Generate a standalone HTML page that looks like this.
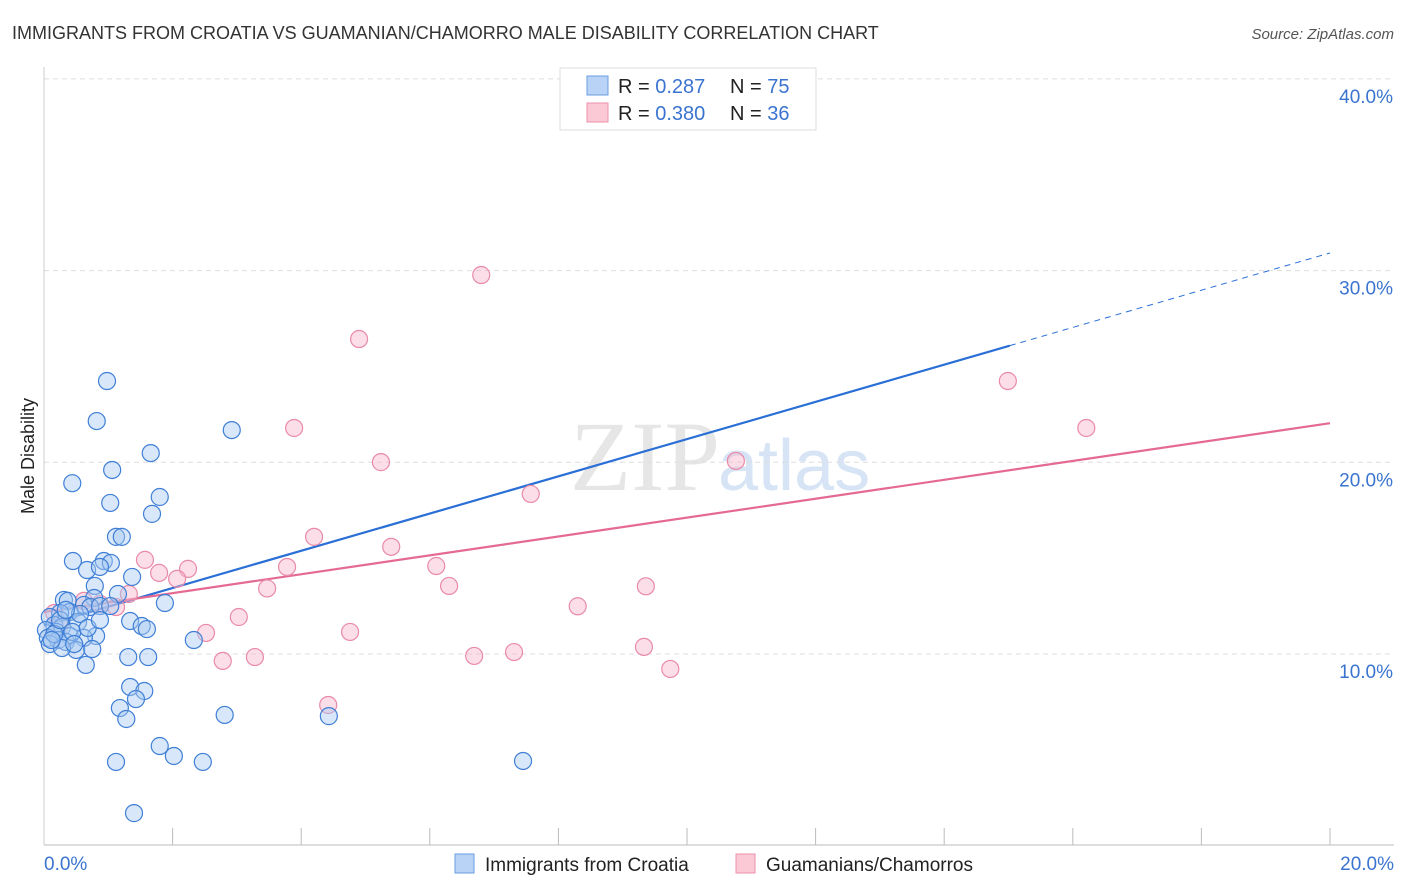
<!DOCTYPE html>
<html><head><meta charset="utf-8"><style>
body{margin:0;background:#fff;font-family:"Liberation Sans",sans-serif}
svg{display:block}
</style></head><body>
<svg id="chart" width="1406" height="892">
<text x="12" y="39" font-size="18" fill="#333">IMMIGRANTS FROM CROATIA VS GUAMANIAN/CHAMORRO MALE DISABILITY CORRELATION CHART</text>
<text x="1394" y="39" font-size="15" fill="#555" font-style="italic" text-anchor="end">Source: ZipAtlas.com</text>
<text transform="translate(34,456) rotate(-90)" font-size="18" fill="#222" text-anchor="middle">Male Disability</text>
<text x="720" y="490" font-size="100" fill="#e6e6e6" text-anchor="end" font-family="Liberation Serif,serif">ZIP</text>
<text x="718" y="490" font-size="72" fill="#d6e4f5">atlas</text>
<g id="grid"></g><g id="axes"></g><g id="trend"></g><g id="pts"></g>
<g>
<rect x="560" y="68" width="256" height="62" fill="#fff" stroke="#ddd"/>
<rect x="587" y="76" width="21" height="19" fill="#b8d3f5" stroke="#6a9de0"/>
<rect x="587" y="103" width="21" height="19" fill="#fbc8d6" stroke="#ec8fab"/>
<text x="618" y="93" font-size="20" fill="#222">R = <tspan fill="#3a74d0">0.287</tspan><tspan x="730">N = </tspan><tspan fill="#3a74d0">75</tspan></text>
<text x="618" y="120" font-size="20" fill="#222">R = <tspan fill="#3a74d0">0.380</tspan><tspan x="730">N = </tspan><tspan fill="#3a74d0">36</tspan></text>
</g>
<g>
<rect x="455" y="854" width="19" height="19" fill="#b8d3f5" stroke="#6a9de0"/>
<text x="485" y="871" font-size="19" fill="#222">Immigrants from Croatia</text>
<rect x="736" y="854" width="19" height="19" fill="#fbc8d6" stroke="#ec8fab"/>
<text x="766" y="871" font-size="19" fill="#222">Guamanians/Chamorros</text>
</g>
</svg>
<script>
const blueX=[0.98,0.82,2.92,1.66,0.44,1.06,1.80,1.03,1.68,1.12,1.21,0.45,0.93,1.04,0.67,0.87,1.37,0.79,0.31,0.37,0.78,1.15,1.88,0.62,0.72,0.87,0.40,0.25,0.09,1.34,1.52,1.60,0.53,0.16,0.28,0.03,0.19,0.40,0.81,0.62,0.06,0.22,0.34,0.09,2.33,0.50,0.75,0.28,1.31,1.62,0.65,1.34,1.56,1.43,1.18,1.28,2.81,4.43,1.80,2.02,1.12,2.47,7.45,1.40,10.30,0.16,0.25,0.44,0.56,0.68,0.34,0.87,0.12,0.47,1.03];
const blueY=[24.24,22.15,21.68,20.48,18.91,19.60,18.19,17.88,17.31,16.11,16.11,14.85,14.85,14.75,14.38,14.54,14.02,13.55,12.82,12.77,12.92,13.13,12.66,12.56,12.45,12.50,12.19,12.14,11.93,11.72,11.46,11.30,11.67,11.51,11.41,11.25,11.15,10.94,10.94,10.84,10.84,10.73,10.63,10.52,10.73,10.21,10.26,10.31,9.84,9.84,9.43,8.28,8.07,7.65,7.18,6.61,6.82,6.76,5.20,4.68,4.37,4.37,4.42,1.70,38.59,11.04,11.77,11.15,12.09,11.36,12.30,11.77,10.73,10.52,12.50];
const pinkX=[6.80,4.90,3.89,5.24,14.99,16.21,10.76,7.57,4.20,5.40,1.57,2.24,1.79,2.07,3.78,6.10,6.30,3.47,9.36,8.30,1.32,0.87,0.62,1.12,3.03,2.52,4.76,2.78,3.28,6.69,7.31,9.33,9.74,4.42,0.16,0.25];
const pinkY=[29.77,26.43,21.79,20.01,24.24,21.79,20.07,18.35,16.11,15.59,14.91,14.44,14.23,13.92,14.54,14.59,13.55,13.42,13.53,12.49,13.13,12.61,12.77,12.45,11.93,11.10,11.15,9.64,9.84,9.90,10.10,10.37,9.22,7.34,12.14,11.57];
const blueTrend=[11.50,30.92]; // y at x=0, x=20
const pinkTrend=[12.19,22.04];
const yTicks=[10,20,30,40];
const yTickLabels=["10.0%","20.0%","30.0%","40.0%"];
const xTickLabels=["0.0%","20.0%"];

const NS="http://www.w3.org/2000/svg";
const X0=44,X1=1330,YB=845.7,PPY=19.17;
const sx=v=>X0+v*(X1-X0)/20, sy=v=>YB-v*PPY;
function mk(tag,attrs,parent){const e=document.createElementNS(NS,tag);for(const k in attrs)e.setAttribute(k,attrs[k]);document.getElementById(parent).appendChild(e);return e;}
yTicks.forEach((t,i)=>{
 const g=mk('line',{x1:X0,x2:1394,y1:sy(t),y2:sy(t),stroke:'#ddd','stroke-dasharray':'5,4'},'grid');
 
 
 const l=mk('text',{x:1393,y:sy(t)+24,'font-size':19,fill:'#3a74d0','text-anchor':'end'},'grid');
 l.textContent=yTickLabels[i];
 
 
});
const ax=mk('line',{x1:X0,x2:1394,y1:845,y2:845,stroke:'#bbb'},'axes');


const ay=mk('line',{x1:X0,x2:X0,y1:67,y2:845,stroke:'#ccc'},'axes');


for(let k=1;k<=10;k++){
 const t=mk('line',{x1:sx(k*2),x2:sx(k*2),y1:828,y2:845,stroke:'#bbb'},'axes');
 
 
}
[[0,'start',44],[20,'end',1394]].forEach((d,i)=>{
 const l=mk('text',{x:d[2],y:870,'font-size':19,fill:'#3a74d0','text-anchor':d[1]},'axes');
 l.textContent=xTickLabels[i];
 
 
});
function pts(xs,ys,fill,stroke,name){
 xs.forEach((x,i)=>{
  const c=mk('circle',{cx:sx(x),cy:sy(ys[i]),r:8.5,fill:fill,'fill-opacity':0.45,stroke:stroke,'stroke-width':1.2},'pts');
  
  
 });
}
pts(pinkX,pinkY,'#f7b6c9','#e98aa8','point-guamanian');
pts(blueX,blueY,'#a9c9f2','#3f7fd6','point-croatia');
const bs=15.02, by=v=>blueTrend[0]+(blueTrend[1]-blueTrend[0])*v/20;
const t1=mk('line',{x1:sx(0),y1:sy(by(0)),x2:sx(bs),y2:sy(by(bs)),stroke:'#2a6fd6','stroke-width':2.2},'trend');


const t2=mk('line',{x1:sx(bs),y1:sy(by(bs)),x2:sx(20),y2:sy(by(20)),stroke:'#2a6fd6','stroke-width':1,'stroke-dasharray':'6,5'},'trend');


const t3=mk('line',{x1:sx(0),y1:sy(pinkTrend[0]),x2:sx(20),y2:sy(pinkTrend[1]),stroke:'#e46a93','stroke-width':2.2},'trend');


</script>
</body></html>
